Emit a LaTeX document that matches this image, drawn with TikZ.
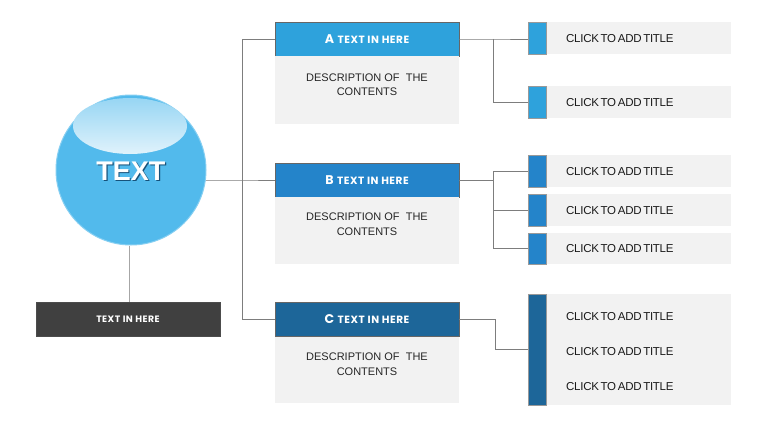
\documentclass[tikz,border=0pt]{standalone}
\usepackage{fontspec}
\setmainfont{Liberation Sans}
\newfontfamily\hfont{Poppins}
\newfontfamily\hsfont[LetterSpace=5]{Poppins}
\newfontfamily\dfont[LetterSpace=5]{Poppins}
\newfontfamily\tfont[LetterSpace=-2.5,WordSpace=0.6]{Liberation Sans}
\usetikzlibrary{calc}
\definecolor{cA}{RGB}{46,162,220}
\definecolor{cB}{RGB}{36,132,202}
\definecolor{cC}{RGB}{29,102,153}
\definecolor{cCirc}{RGB}{82,186,236}
\definecolor{cGray}{RGB}{242,242,242}
\definecolor{cDark}{RGB}{64,64,64}
\definecolor{cLine}{RGB}{125,125,125}
\tikzset{
  conn/.style={draw=cLine,line width=0.8pt},
  hdr/.style={draw=black!60,line width=0.4pt,minimum width=184pt,minimum height=34pt,inner sep=0pt,text=white},
  descbox/.style={fill=cGray,minimum width=184pt,inner sep=0pt,text=black!85,font=\fontsize{11}{14.5}\selectfont,align=center},
  bar/.style={draw=black!40,line width=0.3pt,minimum width=18pt,inner sep=0pt},
  titlebox/.style={fill=cGray,minimum width=185pt,inner sep=0pt},
  ttl/.style={anchor=west,inner sep=0pt,text=black!90,font=\tfont\fontsize{11.5}{12}\selectfont}
}
\newcommand{\hdrtext}[1]{{\hfont\bfseries\fontsize{12.6}{14}\selectfont #1}\hspace{3.5pt}{\hsfont\bfseries\fontsize{10.5}{11}\selectfont TEXT IN HERE}}
\newcommand{\desctext}{DESCRIPTION OF\ \ THE\\CONTENTS}
\begin{document}
\begin{tikzpicture}[x=1pt,y=-1pt]
\useasboundingbox (0,0) rectangle (760,428);
\fill[white] (0,0) rectangle (760,428);
% circle
\node[circle,minimum size=150pt,inner sep=0pt,fill=cCirc,draw=cCirc!70!white,line width=1pt] (circ) at (131,170) {};
\shade[top color=cCirc!60!white,bottom color=white!82!cCirc] (130,126) ellipse [x radius=57,y radius=28];
\node[text=cC!80!black,font=\bfseries\fontsize{27}{30}\selectfont] at (132,172.5) {TEXT};
\node[text=white,font=\bfseries\fontsize{27}{30}\selectfont] (ctext) at (130.8,171.3) {TEXT};
% dark box
\node[fill=cDark,draw=black!70,line width=0.4pt,minimum width=184pt,minimum height=34pt,inner sep=0pt,text=white,font=\dfont\bfseries\fontsize{9.3}{10}\selectfont] (dark) at (128,319) {TEXT IN HERE};
\coordinate (cb) at (129.5,245.5);
\draw[draw=black!35,line width=1pt] (cb) -- (cb |- dark.north);
% headers
\node[hdr,fill=cA] (ah) at (367,39) {\hdrtext{A}};
\node[descbox,minimum height=68pt,anchor=north] (ad) at (367,56) {};
\node[descbox,anchor=north] (adt) at (367,73.5) {\desctext};
\node[hdr,fill=cB] (bh) at (367,180) {\hdrtext{B}};
\node[descbox,minimum height=67pt,anchor=north] (bd) at (367,197) {};
\node[descbox,anchor=north] (bdt) at (367,213) {\desctext};
\node[hdr,fill=cC] (ch) at (367,319.5) {\hdrtext{C}};
\node[descbox,minimum height=66pt,anchor=north] (cd) at (367,337) {};
\node[descbox,anchor=north] (cdt) at (367,353) {\desctext};
% left connectors
\coordinate (lt) at (242,39);
\coordinate (lm) at (242,180);
\coordinate (lb) at (242,319.5);
\coordinate (ce) at (205.5,180);
\draw[conn] (ah.west) -- (lt) -- (lb) -- (ch.west);
\draw[conn] (ce) -- (lm) -- (bh.west);
% right A
\node[titlebox,minimum height=32pt] (at1) at (638.5,38) {};
\node[titlebox,minimum height=32pt] (at2) at (638.5,102) {};
\node[bar,fill=cA,minimum height=32pt] (a1) at (537,38) {};
\node[bar,fill=cA,minimum height=32pt] (a2) at (537,102) {};
\node[ttl] at (566,38.5) {CLICK TO ADD TITLE};
\node[ttl] at (566,102.5) {CLICK TO ADD TITLE};
\coordinate (aj) at (493,39);
\draw[conn] (ah.east) -- (aj) -- (a1.west |- aj);
\draw[conn] (aj) |- (a2.west);
% right B
\node[titlebox,minimum height=32pt] (bt1) at (638.5,171) {};
\node[titlebox,minimum height=32pt] (bt2) at (638.5,210) {};
\node[titlebox,minimum height=31pt] (bt3) at (638.5,248.5) {};
\node[bar,fill=cB,minimum height=32pt] (b1) at (537,171) {};
\node[bar,fill=cB,minimum height=32pt] (b2) at (537,210) {};
\node[bar,fill=cB,minimum height=31pt] (b3) at (537,248.5) {};
\node[ttl] at (566,171.5) {CLICK TO ADD TITLE};
\node[ttl] at (566,210.5) {CLICK TO ADD TITLE};
\node[ttl] at (566,249) {CLICK TO ADD TITLE};
\coordinate (bj) at (493,180);
\coordinate (bjt) at (493,171);
\draw[conn] (bh.east) -- (bj);
\draw[conn] (b1.west) -- (bjt) -- (bjt |- b3.west) -- (b3.west);
\draw[conn] (bj |- b2.west) -- (b2.west);
% right C
\node[titlebox,minimum height=111pt] (ct) at (638.5,349.5) {};
\node[bar,fill=cC,minimum height=111pt] (c1) at (537,349.5) {};
\node[ttl] at (566,316.5) {CLICK TO ADD TITLE};
\node[ttl] at (566,351.5) {CLICK TO ADD TITLE};
\node[ttl] at (566,386.5) {CLICK TO ADD TITLE};
\coordinate (cj) at (495,319.5);
\draw[conn] (ch.east) -- (cj) |- (c1.west);
\end{tikzpicture}
\end{document}
